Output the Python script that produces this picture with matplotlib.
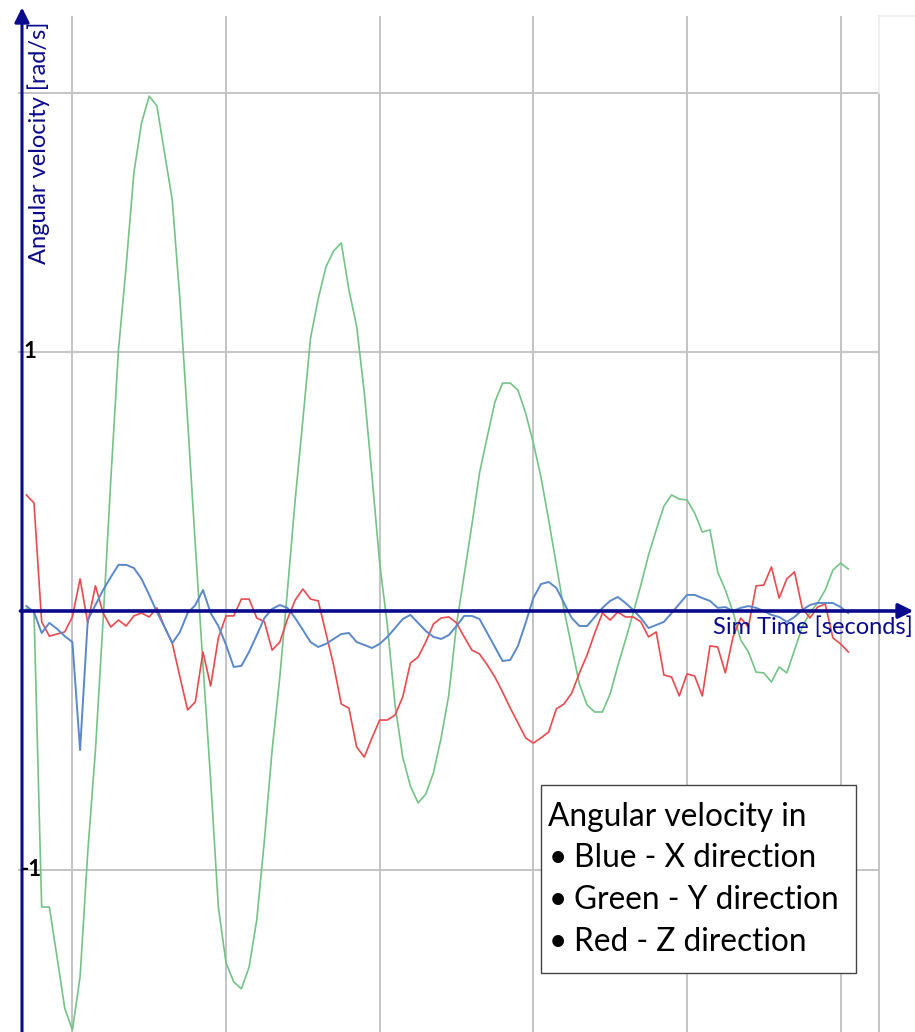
import numpy as np
import matplotlib
matplotlib.use("Agg")
import matplotlib.pyplot as plt
from matplotlib.patches import Rectangle

plt.rcParams['font.family'] = ['Lato', 'DejaVu Sans']

# sim time, one sample every 0.05 s
t = np.round(0.70 + 0.05 * np.arange(108), 2)

# angular velocity [rad/s]
wx = [0.019, -0.004, -0.085, -0.046, -0.069, -0.097, -0.120, -0.537, -0.035, 0.023,
      0.081, 0.131, 0.178, 0.178, 0.166, 0.124, 0.062, -0.004, -0.062, -0.124,
      -0.081, -0.008, 0.023, 0.081, -0.008, -0.058, -0.131, -0.216, -0.212, -0.158,
      -0.093, -0.027, 0.008, 0.023, 0.012, -0.027, -0.073, -0.120, -0.139, -0.127,
      -0.108, -0.089, -0.085, -0.120, -0.131, -0.143, -0.127, -0.100, -0.066, -0.031,
      -0.015, -0.046, -0.077, -0.100, -0.108, -0.093, -0.058, -0.019, -0.019, -0.031,
      -0.085, -0.139, -0.193, -0.189, -0.135, -0.046, 0.050, 0.104, 0.112, 0.089,
      0.031, -0.027, -0.058, -0.058, -0.023, 0.012, 0.039, 0.054, 0.031, 0.004,
      -0.027, -0.066, -0.054, -0.042, -0.008, 0.027, 0.062, 0.062, 0.050, 0.039,
      0.012, 0.015, 0.000, 0.012, 0.019, 0.012, 0.000, -0.015, -0.023, -0.042,
      -0.023, 0.004, 0.023, 0.031, 0.031, 0.031, 0.015, -0.008]

wy = [0.008, 0.000, -1.143, -1.143, -1.336, -1.533, -1.618, -1.413, -0.931, -0.537,
      -0.035, 0.506, 1.008, 1.332, 1.691, 1.884, 1.988, 1.950, 1.768, 1.587,
      1.201, 0.737, 0.255, -0.208, -0.653, -1.143, -1.359, -1.432, -1.459, -1.375,
      -1.193, -0.884, -0.537, -0.255, 0.081, 0.429, 0.737, 1.054, 1.205, 1.328,
      1.390, 1.421, 1.239, 1.100, 0.842, 0.521, 0.185, -0.054, -0.363, -0.564,
      -0.676, -0.741, -0.707, -0.625, -0.490, -0.324, -0.054, 0.139, 0.332, 0.533,
      0.672, 0.807, 0.880, 0.880, 0.853, 0.764, 0.649, 0.517, 0.351, 0.178,
      0.004, -0.139, -0.282, -0.363, -0.390, -0.390, -0.320, -0.212, -0.112, -0.008,
      0.100, 0.216, 0.313, 0.405, 0.448, 0.432, 0.429, 0.378, 0.305, 0.313,
      0.151, 0.081, -0.004, -0.112, -0.158, -0.236, -0.239, -0.274, -0.216, -0.239,
      -0.151, -0.062, -0.008, 0.031, 0.081, 0.158, 0.185, 0.162]

wz = [0.448, 0.417, -0.042, -0.097, -0.089, -0.081, -0.023, 0.124, -0.046, 0.097,
      -0.008, -0.062, -0.035, -0.058, -0.019, -0.008, -0.023, 0.012, -0.062, -0.124,
      -0.255, -0.382, -0.351, -0.158, -0.290, -0.104, -0.019, -0.019, 0.046, 0.046,
      -0.027, -0.042, -0.151, -0.120, -0.031, 0.042, 0.085, 0.046, 0.039, -0.085,
      -0.208, -0.359, -0.375, -0.525, -0.564, -0.490, -0.421, -0.421, -0.402, -0.332,
      -0.201, -0.178, -0.120, -0.050, -0.027, -0.023, -0.046, -0.100, -0.151, -0.166,
      -0.208, -0.255, -0.313, -0.375, -0.432, -0.490, -0.510, -0.490, -0.467, -0.378,
      -0.359, -0.317, -0.239, -0.170, -0.085, -0.008, -0.035, -0.004, -0.023, -0.023,
      -0.042, -0.100, -0.081, -0.247, -0.255, -0.328, -0.243, -0.251, -0.328, -0.135,
      -0.139, -0.239, -0.100, -0.027, -0.062, 0.097, 0.100, 0.170, 0.050, 0.124,
      0.151, 0.012, -0.027, 0.015, 0.027, -0.104, -0.127, -0.158]

x_grid = [1, 2, 3, 4, 5, 6]
y_grid = [2, 1, -1]
y_labels = {1: "1", -1: "-1"}
legend_lines = ["Angular velocity in", "Blue - X direction",
                "Green - Y direction", "Red - Z direction"]

navy = "#0a0a8c"
grid_c = "#c4c4c4"

fig = plt.figure(figsize=(9.15, 10.32), dpi=100)
ax = fig.add_axes([0, 0, 1, 1])
ax.set_xlim(0.5288, 6.4843)
ax.set_ylim(-1.6255, 2.359)
ax.set_axis_off()

x0 = 0.672      # where the value axis sits
x_end = 6.25    # right edge of the plot area
y_top = 2.297

# grid
ax.vlines(x_grid, -1.7, y_top, color=grid_c, lw=1.4, zorder=1)
ax.vlines([x_end], -1.7, 2.0, color=grid_c, lw=1.4, zorder=1)
ax.hlines(y_grid, 0.646, x_end, color=grid_c, lw=1.4, zorder=1)
ax.plot([x_end, 6.49], [y_top, y_top], color="#ececec", lw=1.2, zorder=1)
ax.plot([x_end, x_end], [y_top, 2.0], color="#ececec", lw=1.2, zorder=1)

# series
ax.plot(t, wy, color="#74c286", lw=1.2, zorder=3)
ax.plot(t, wz, color="#e8494e", lw=1.2, zorder=4)
ax.plot(t, wx, color="#5a88c8", lw=1.4, zorder=5)

# axes with arrow heads
ax.annotate("", xy=(6.474, 0), xytext=(x0 - 0.01, 0),
            arrowprops=dict(arrowstyle="-|>", color=navy, lw=2.6,
                            mutation_scale=22, shrinkA=0, shrinkB=0),
            zorder=6)
ax.annotate("", xy=(x0, 2.33), xytext=(x0, -1.7),
            arrowprops=dict(arrowstyle="-|>", color=navy, lw=2.2,
                            mutation_scale=22, shrinkA=0, shrinkB=0),
            zorder=6)

for v, s in y_labels.items():
    ax.text(x0 + (0.012 if v > 0 else -0.005), v, s, fontsize=16,
            fontweight="bold", color="black", ha="left", va="center", zorder=7)

ax.text(0.783, 2.274, "Angular velocity [rad/s]", rotation=90, fontsize=17,
        color=navy, ha="center", va="top", zorder=7)
ax.text(6.47, -0.02, "Sim Time [seconds]", fontsize=17, color=navy,
        ha="right", va="top", zorder=7)

# text box
bx0, bx1 = 4.050, 6.100
by0, by1 = -1.3985, -0.672
ax.add_patch(Rectangle((bx0, by0), bx1 - bx0, by1 - by0, facecolor="white",
                       edgecolor="#444444", lw=1.0, zorder=8))
ys = [-0.795, -0.955, -1.117, -1.279]
ax.text(4.096, ys[0], legend_lines[0], fontsize=22.8, color="black",
        ha="left", va="center", zorder=9)
for yy, s in zip(ys[1:], legend_lines[1:]):
    ax.text(4.100, yy, "\u2022", fontsize=22.8, color="black",
            ha="left", va="center", zorder=9)
    ax.text(4.265, yy, s, fontsize=22.8, color="black",
            ha="left", va="center", zorder=9)

fig.savefig("out.png", dpi=100, facecolor="white")
